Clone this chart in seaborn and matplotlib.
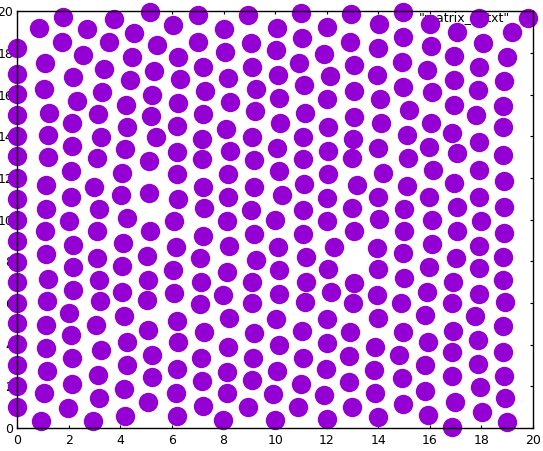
import matplotlib
matplotlib.use("Agg")
import matplotlib.pyplot as plt
import seaborn as sns
import pandas as pd

# Points, grouped by approximate column (x, y)
col_00 = [(0.00, 18.23), (0.00, 16.99), (0.00, 16.02), (0.00, 15.02), (0.00, 14.02), (0.00, 13.06),
          (0.00, 11.99), (0.00, 10.99), (0.00, 9.98), (0.00, 8.98), (0.00, 7.98), (0.00, 6.99),
          (0.00, 6.02), (0.00, 5.03), (0.00, 4.03), (0.00, 3.02), (0.00, 2.02), (0.00, 0.99)]
col_01 = [(0.85, 19.19), (1.07, 17.51), (1.05, 16.26), (1.24, 15.11), (1.20, 14.06), (1.20, 12.99),
          (1.11, 11.66), (1.11, 10.51), (1.07, 9.46), (1.11, 8.34), (1.18, 7.15), (1.14, 6.10),
          (1.10, 4.94), (1.11, 3.83), (1.16, 2.75), (1.05, 1.69), (0.91, 0.34)]
col_02 = [(1.78, 19.71), (1.72, 18.51), (2.56, 17.90), (2.17, 16.83), (2.33, 15.70), (2.13, 14.63),
          (2.11, 13.55), (2.07, 12.34), (2.07, 11.10), (2.02, 9.95), (2.17, 8.78), (2.17, 7.71),
          (2.17, 6.62), (2.02, 5.53), (2.08, 4.46), (2.13, 3.35), (2.11, 2.10), (1.98, 0.95)]
col_03 = [(2.69, 19.14), (3.37, 17.22), (3.30, 16.11), (3.14, 15.06), (3.25, 13.95), (3.08, 12.95),
          (2.99, 11.55), (3.18, 10.50), (3.10, 9.46), (3.08, 8.17), (3.18, 7.10), (3.21, 6.10),
          (3.04, 4.94), (3.25, 3.74), (3.14, 2.54), (3.18, 1.43), (2.95, 0.34)]
col_04 = [(3.76, 19.62), (3.57, 18.51), (4.54, 18.95), (4.44, 17.79), (4.37, 16.70), (4.20, 15.50),
          (4.24, 14.46), (4.18, 13.39), (4.05, 12.23), (4.02, 11.18), (4.27, 10.07), (4.11, 8.87),
          (4.07, 7.78), (4.07, 6.54), (4.15, 5.38), (4.24, 4.14), (4.27, 3.02), (4.15, 1.87),
          (4.18, 0.59)]
col_05 = [(5.15, 19.98), (5.41, 18.38), (5.31, 17.15), (5.21, 15.98), (5.17, 14.98), (5.37, 13.95),
          (5.11, 12.82), (5.12, 11.27), (5.15, 9.46), (5.02, 8.26), (5.08, 7.10), (5.02, 6.14),
          (5.08, 4.70), (5.21, 3.50), (5.21, 2.43), (5.08, 1.23)]
col_06 = [(6.05, 19.34), (6.24, 17.79), (6.31, 16.74), (6.22, 15.59), (6.18, 14.50), (6.20, 13.26),
          (6.20, 12.18), (6.24, 10.99), (6.09, 9.94), (6.15, 8.70), (6.05, 7.58), (6.09, 6.47),
          (6.18, 5.15), (6.24, 4.11), (6.18, 2.83), (6.14, 1.67), (6.20, 0.58)]
col_07 = [(7.02, 19.82), (7.02, 18.54), (7.21, 17.34), (7.28, 16.19), (7.21, 15.06), (7.17, 13.86),
          (7.17, 12.90), (7.21, 11.58), (7.25, 10.55), (7.21, 9.23), (7.09, 8.15), (7.11, 7.02),
          (7.09, 5.94), (7.25, 4.62), (7.11, 3.37), (7.15, 2.27), (7.21, 1.06)]
col_08 = [(8.03, 19.14), (8.05, 18.06), (8.16, 16.79), (8.26, 15.63), (8.08, 14.34), (8.25, 13.30),
          (8.18, 12.18), (8.16, 11.10), (8.12, 9.94), (8.22, 8.74), (8.12, 7.50), (7.99, 6.38),
          (8.22, 5.27), (8.18, 3.87), (8.12, 2.70), (8.12, 1.67), (7.99, 0.38)]
col_09 = [(8.93, 19.82), (9.05, 18.47), (9.11, 17.34), (9.25, 16.26), (9.22, 15.22), (9.11, 13.98),
          (9.18, 12.86), (9.18, 11.58), (9.06, 10.46), (9.18, 9.30), (9.26, 8.06), (9.11, 7.02),
          (9.11, 5.99), (9.19, 4.55), (9.15, 3.35), (9.09, 2.30), (8.93, 1.02)]
col_10 = [(10.08, 19.19), (10.03, 18.14), (10.12, 16.94), (10.16, 15.83), (10.19, 14.63), (10.06, 13.43),
          (10.16, 12.34), (10.28, 11.18), (9.99, 9.98), (10.10, 8.70), (10.16, 7.58), (10.16, 6.42),
          (10.03, 5.22), (10.16, 3.98), (10.08, 2.74), (9.93, 1.62), (9.99, 0.38)]
col_11 = [(11.00, 19.91), (11.05, 18.71), (10.94, 17.51), (11.13, 16.46), (11.16, 15.11), (11.09, 13.98),
          (11.09, 12.90), (11.13, 11.70), (11.07, 10.46), (11.07, 9.30), (11.20, 8.22), (11.20, 7.02),
          (11.16, 6.03), (11.03, 4.66), (11.07, 3.37), (11.00, 2.10), (10.90, 1.02)]
col_12 = [(12.02, 19.23), (11.91, 17.95), (12.14, 16.90), (12.00, 15.79), (12.06, 14.43), (12.06, 13.31),
          (12.06, 12.18), (12.00, 11.03), (12.00, 9.94), (12.29, 8.70), (12.06, 7.63), (12.16, 6.54),
          (12.02, 5.22), (12.00, 4.09), (11.96, 2.82), (11.91, 1.58), (12.00, 0.42)]
col_13 = [(12.94, 19.87), (12.90, 18.51), (13.07, 17.42), (13.07, 16.19), (13.07, 14.91), (13.03, 13.86),
          (12.97, 12.95), (13.16, 11.66), (12.97, 10.57), (13.07, 9.46), (13.07, 6.97), (13.03, 5.99),
          (12.90, 4.62), (12.86, 3.47), (12.86, 2.22), (12.97, 0.99)]
col_14 = [(14.04, 19.39), (14.00, 18.23), (13.96, 16.94), (14.07, 15.78), (14.09, 14.65), (14.00, 13.43),
          (14.19, 12.23), (14.00, 11.07), (14.04, 10.03), (13.94, 8.63), (14.00, 7.63), (13.96, 6.38),
          (14.00, 5.27), (13.87, 3.90), (13.84, 2.78), (13.87, 1.69), (13.98, 0.51)]
col_15 = [(14.97, 19.98), (14.97, 18.75), (14.91, 17.55), (14.95, 16.38), (15.20, 15.26), (15.10, 14.06),
          (15.16, 12.95), (15.10, 11.63), (15.01, 10.51), (15.01, 9.47), (14.97, 8.39), (15.01, 7.19),
          (14.88, 5.99), (14.95, 4.62), (14.81, 3.50), (14.91, 2.39), (14.97, 1.15)]
col_16 = [(16.00, 19.39), (16.03, 18.34), (15.90, 17.18), (16.07, 16.14), (16.03, 14.65), (15.98, 13.50),
          (16.13, 12.38), (15.98, 11.07), (16.07, 9.98), (16.07, 8.83), (15.97, 7.71), (15.90, 6.54),
          (15.81, 5.42), (15.94, 4.14), (15.81, 3.02), (15.81, 1.79), (15.94, 0.62)]
col_17 = [(17.06, 19.02), (16.95, 17.86), (16.95, 16.70), (16.95, 15.50), (16.85, 14.17), (17.06, 13.19),
          (16.95, 11.75), (17.04, 10.59), (17.04, 9.47), (17.01, 8.15), (16.91, 7.02), (16.85, 5.99),
          (16.91, 4.67), (16.87, 3.66), (16.87, 2.50), (16.97, 1.26), (16.87, 0.03)]
col_18 = [(17.92, 19.67), (18.07, 18.47), (17.92, 17.34), (17.85, 16.22), (17.79, 15.02), (17.92, 13.74),
          (17.92, 12.38), (17.92, 11.07), (17.98, 9.94), (17.92, 8.75), (17.92, 7.67), (17.92, 6.42),
          (17.75, 5.38), (17.88, 4.22), (17.88, 3.07), (17.94, 1.98), (18.03, 0.78)]
col_19 = [(19.17, 18.99), (18.98, 17.82), (18.87, 16.66), (18.85, 15.46), (18.82, 14.43), (18.85, 13.10),
          (18.89, 11.87), (18.89, 10.59), (18.89, 9.35), (18.85, 8.19), (18.82, 7.10), (18.91, 6.06),
          (18.85, 4.90), (18.85, 3.66), (18.89, 2.50), (18.91, 1.43), (19.00, 0.30)]

columns = [col_00, col_01, col_02, col_03, col_04, col_05, col_06, col_07, col_08, col_09,
           col_10, col_11, col_12, col_13, col_14, col_15, col_16, col_17, col_18, col_19]

x_ticks = [0, 2, 4, 6, 8, 10, 12, 14, 16, 18, 20]
y_ticks = [0, 2, 4, 6, 8, 10, 12, 14, 16, 18, 20]
series_label = '"matrix_in.txt"'

rows = [pt for col in columns for pt in col]
df = pd.DataFrame(rows, columns=["x", "y"])

COLOR = "#9400D3"

fig = plt.figure(figsize=(5.43, 4.51), dpi=100)
ax = fig.add_axes([0.0319, 0.051, 0.9497, 0.924])

sns.scatterplot(data=df, x="x", y="y", ax=ax, color=COLOR, s=195, linewidth=0,
                marker="o", clip_on=False, zorder=2, label=series_label)

ax.set_xlim(0, 20)
ax.set_ylim(0, 20)
ax.set_xticks(x_ticks)
ax.set_yticks(y_ticks)
ax.set_xlabel("")
ax.set_ylabel("")
ax.tick_params(direction="in", length=2.5, width=0.8, top=True, right=True,
               labelsize=9, colors="black")
ax.tick_params(axis="x", pad=4.5)
ax.tick_params(axis="y", pad=3)
for sp in ax.spines.values():
    sp.set_linewidth(1.0)
    sp.set_zorder(3)
    sp.set_color("black")

leg = ax.legend(loc="center right", bbox_to_anchor=(1.0136, 0.984), frameon=False,
                markerfirst=False, fontsize=9, handletextpad=0.4, borderpad=0,
                borderaxespad=0, handlelength=2.0)
leg.set_zorder(1.8)

fig.savefig("out.png", dpi=100)
